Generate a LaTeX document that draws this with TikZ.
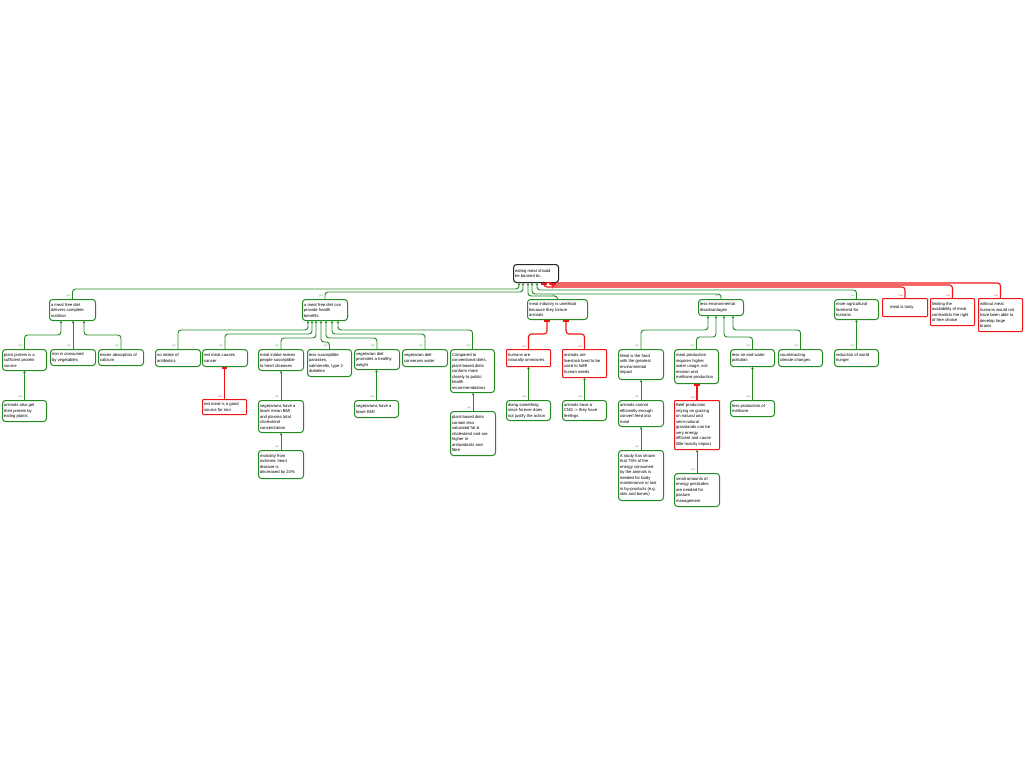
\documentclass[tikz,border=0pt]{standalone}
\usepackage{fontspec}
\setmainfont{Liberation Sans}
\usetikzlibrary{arrows.meta}
\definecolor{gr}{RGB}{34,139,34}
\definecolor{rd}{RGB}{240,20,20}
\tikzset{
 box/.style={draw=gr, line width=1pt, rounded corners=3pt, fill=white, anchor=north west, inner xsep=1.5pt, inner ysep=1pt, align=flush left, font=\fontsize{4.2pt}{5.5pt}\selectfont},
 rbox/.style={box, draw=rd, rounded corners=0.8pt},
 rootbox/.style={box, draw=black!85, line width=1.1pt},
 gedge/.style={draw=gr, line width=0.95pt, rounded corners=3pt, -{Latex[length=2pt,width=2.8pt]}},
 redge/.style={draw=rd, line width=1.15pt, rounded corners=3pt, -{Rectangle[length=1.6pt,width=5.5pt]}},
 lab/.style={font=\fontsize{2.6pt}{2.8pt}\selectfont, inner sep=0.3pt, anchor=south east, xshift=-1.2pt, yshift=0.8pt},
}
\newcommand\nd[7]{\pgfmathsetmacro\tw{#4-3}\node[#6, minimum width=#4pt, minimum height=#5pt, text width=\tw pt] (#1) at (#2,#3) {#7};}
\newcommand\gE[4]{\draw[gedge] (#1.north) node[lab, text=gr!80]{pro} -- (#1.north |- 0,#4) -- (#3,#4) -- (#2.south -| #3,0);}
\newcommand\rE[4]{\draw[redge] (#1.north) node[lab, text=rd!80]{con} -- (#1.north |- 0,#4) -- (#3,#4) -- (#2.south -| #3,0);}
\newcommand\gV[2]{\draw[gedge] (#1.north) node[lab, text=gr!80]{pro} -- (#2.south -| #1.north);}
\newcommand\rV[2]{\draw[redge] (#1.north) node[lab, text=rd!80]{con} -- (#2.south -| #1.north);}
\begin{document}
\begin{tikzpicture}[x=1pt,y=-1pt]
\fill[white] (0,0) rectangle (1024,768);
\useasboundingbox (0,0) rectangle (1024,768);
% level 0 and 1
\nd{R}{513}{264}{45}{18}{rootbox}{eating meat should\\be banned bc.}
\nd{A}{49}{299}{46}{21}{box}{a meat free diet\\delivers complete\\nutrition}
\nd{B}{302}{299}{45}{21}{box}{a meat free diet can\\provide health\\benefits}
\nd{C}{527}{299}{60}{20}{box}{meat industry is unethical\\because they torture\\animals}
\nd{D}{698}{299}{45}{16}{box}{less environmental\\disadvantages}
\nd{E}{834}{299}{44}{20}{box}{more agricultural\\farmland for\\humans}
\nd{F}{882}{298}{45}{18}{rbox}{\hspace*{6pt}meat is tasty}
\nd{G}{930}{298}{44}{27}{rbox}{limiting the\\availability of meat\\contradicts the right\\of free choice}
\nd{H}{978}{298}{44}{33}{rbox}{without meat\\humans would not\\have been able to\\develop large\\brains}
% A subtree
\nd{A1}{2}{349}{44}{21}{box}{plant protein is a\\sufficient protein\\source}
\nd{A2}{50}{349}{45}{16}{box}{iron is consumed\\by vegetables}
\nd{A3}{98}{349}{45}{16}{box}{easier absorption of\\calcium}
\nd{A1a}{2}{400}{44}{21}{box}{animals also get\\their protein by\\eating plants}
% B subtree
\nd{B1}{155}{349}{45}{17}{box}{no intake of\\antibiotics}
\nd{B2}{202}{349}{45}{17}{box}{red meat causes\\cancer}
\nd{B3}{258}{349}{45}{21}{box}{meat intake makes\\people susceptible\\to heart diseases}
\nd{B4}{307}{349}{44}{27}{box}{less susceptible\\parasites,\\salmonella, type 2\\diabetes}
\nd{B5}{354}{349}{45}{20}{box}{vegetarian diet\\promotes a healthy\\weight}
\nd{B6}{402}{349}{45}{17}{box}{vegetarian diet\\conserves water}
\nd{B7}{450}{349}{44}{43}{box}{Compared to\\conventional diets,\\plant-based diets\\conform more\\closely to public\\health\\recommendations}
\nd{B2a}{202}{399}{44}{15}{rbox}{red meat is a good\\source for iron}
\nd{B3a}{258}{400}{45}{32}{box}{vegetarians have a\\lower mean BMI\\and plasma total\\cholesterol\\concentration}
\nd{B3b}{258}{450}{45}{28}{box}{mortality from\\ischemic heart\\disease is\\decreased by 24\%}
\nd{B5a}{354}{400}{44}{17}{box}{vegetarians have a\\lower BMI}
\nd{B7a}{450}{411}{45}{44}{box}{plant-based diets\\contain less\\saturated fat \&\\cholesterol and are\\higher in\\antioxidants and\\fibre}
% C subtree
\nd{C1}{506}{349}{44}{17}{rbox}{humans are\\naturally omnivores}
\nd{C2}{562}{349}{44}{28}{rbox}{animals are\\livestock bred to be\\used to fulfill\\human needs}
\nd{C1a}{506}{400}{44}{20}{box}{doing something\\since forever does\\not justify the action}
\nd{C2a}{562}{400}{44}{20}{box}{animals have a\\CNS -> they have\\feelings}
% D subtree
\nd{D1}{618}{349}{45}{30}{box}{Meat is the food\\with the greatest\\environmental\\impact}
\nd{D2}{674}{349}{44}{34}{box}{meat production\\requires higher\\water usage, soil\\erosion and\\methane production}
\nd{D3}{730}{349}{44}{17}{box}{less air and water\\pollution}
\nd{D4}{778}{349}{44}{17}{box}{counteracting\\climate changes}
\nd{D1a}{618}{400}{45}{26}{box}{animals cannot\\efficiently enough\\convert feed into\\meat}
\nd{D1b}{618}{450}{45}{50}{box}{A study has shown\\that 75\% of the\\energy consumed\\by the animals is\\needed for body\\maintenance or lost\\in by-products (e.g.\\skin and bones)}
\nd{D2a}{674}{400}{45}{49}{rbox}{Beef production\\relying on grazing\\on natural and\\semi-natural\\grasslands can be\\very energy\\efficient and cause\\little toxicity impact}
\nd{D2b}{674}{473}{45}{33}{box}{small amounts of\\energy pesticides\\are needed for\\pasture\\management}
\nd{D3a}{730}{400}{44}{16}{box}{less production of\\methane}
% E subtree
\nd{E1}{834}{349}{44}{17}{box}{reduction of world\\hunger}
% edges from root
\gE{A}{R}{519}{289}
\gE{B}{R}{523}{292}
\gE{C}{R}{528}{296}
\gE{D}{R}{532}{294}
\gE{E}{R}{537}{290}
\rE{F}{R}{544}{287}
\rE{G}{R}{549}{285}
\rE{H}{R}{553}{283}
% A edges
\gE{A1}{A}{61}{335}
\gV{A2}{A}
\gE{A3}{A}{84}{335}
\gV{A1a}{A1}
% B edges
\gE{B1}{B}{308}{330}
\gE{B2}{B}{312}{334}
\gE{B3}{B}{316}{338}
\gE{B4}{B}{321}{342}
\gE{B5}{B}{326}{338}
\gE{B6}{B}{332}{334}
\gE{B7}{B}{338}{330}
\rV{B2a}{B2}
\gV{B3a}{B3}
\gV{B3b}{B3a}
\gV{B5a}{B5}
\gV{B7a}{B7}
% C edges
\rE{C1}{C}{547}{334}
\rE{C2}{C}{566}{334}
\gV{C1a}{C1}
\gV{C2a}{C2}
% D edges
\gE{D1}{D}{708}{330}
\gE{D2}{D}{716}{337}
\gE{D3}{D}{724}{337}
\gE{D4}{D}{733}{330}
\gV{D1a}{D1}
\gV{D1b}{D1a}
\rV{D2a}{D2}
\gV{D2b}{D2a}
\gV{D3a}{D3}
% E edges
\gV{E1}{E}
\end{tikzpicture}
\end{document}
